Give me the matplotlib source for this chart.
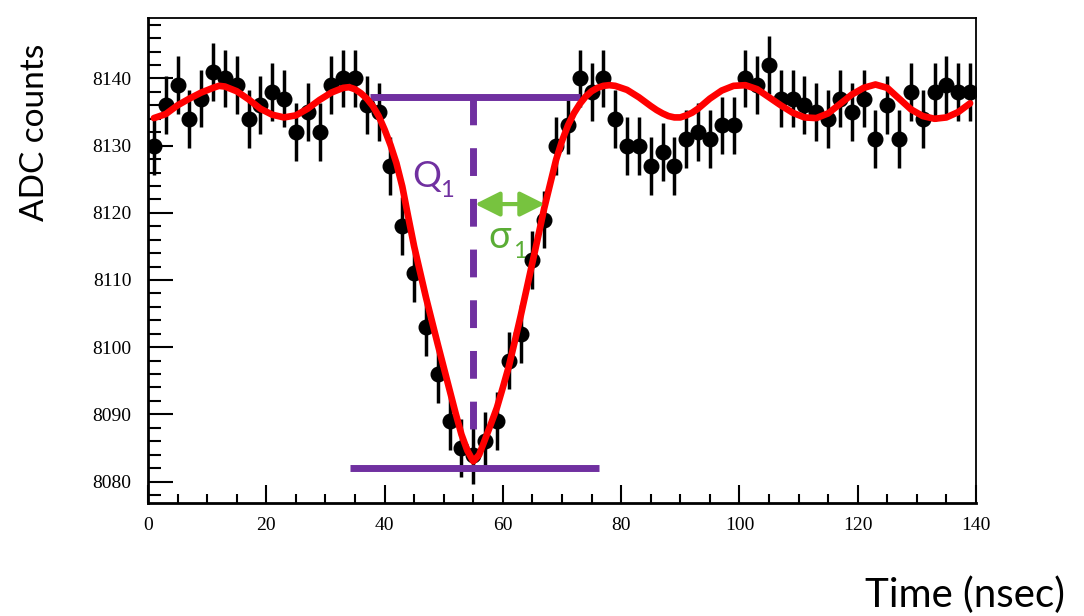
import numpy as np
import matplotlib.pyplot as plt
from matplotlib.patches import ArrowStyle
from matplotlib.ticker import MultipleLocator

# measured ADC samples (every 2 ns)
time_ns = np.arange(1, 140, 2)
adc = [8130, 8136, 8139, 8134, 8137, 8141, 8140, 8139, 8134, 8136,
       8138, 8137, 8132, 8135, 8132, 8139, 8140, 8140, 8136, 8135,
       8127, 8118, 8111, 8103, 8096, 8089, 8085, 8084, 8086, 8089,
       8098, 8102, 8113, 8119, 8130, 8133, 8140, 8138, 8140, 8134,
       8130, 8130, 8127, 8129, 8127, 8131, 8132, 8131, 8133, 8133,
       8140, 8139, 8142, 8137, 8137, 8136, 8135, 8134, 8137, 8135,
       8137, 8131, 8136, 8131, 8138, 8134, 8138, 8139, 8138, 8138]
adc_err = 4.3

# fit curve
fit_t = [1, 3, 5, 7, 9, 11, 12, 13, 15, 17, 19, 21, 23, 25, 27, 29, 31, 33, 34,
         35, 36, 37, 38, 39, 40, 41, 42, 43, 44, 45, 46, 47, 48, 49, 50, 51, 52,
         53, 54, 55, 56, 57, 58, 59, 60, 61, 62, 63, 64, 65, 66, 67, 68, 69, 70,
         71, 72, 73, 74, 75, 76, 77, 78, 79, 81, 83, 85, 86, 87, 88, 89, 90, 91,
         92, 93, 95, 97, 99, 101, 103, 105, 107, 109, 111, 113, 115, 117, 119,
         121, 123, 125, 127, 129, 131, 133, 135, 137, 139]
fit_adc = [8134.1, 8134.7, 8136.0, 8137.0, 8137.9, 8138.6, 8138.9, 8138.8,
           8138.1, 8136.9, 8135.5, 8134.6, 8134.2, 8134.5, 8135.5, 8136.8,
           8137.9, 8138.6, 8138.7, 8138.4, 8137.8, 8137.0, 8135.9, 8134.4,
           8132.4, 8130.1, 8127.4, 8123.9, 8119.4, 8115.0, 8111.2, 8107.4,
           8103.9, 8100.4, 8097.0, 8093.6, 8090.2, 8087.0, 8084.6, 8083.0,
           8084.0, 8086.3, 8088.6, 8091.0, 8094.0, 8097.1, 8100.8, 8104.6,
           8108.6, 8112.6, 8116.6, 8120.7, 8124.3, 8127.9, 8130.7, 8133.0,
           8134.8, 8136.2, 8137.3, 8138.1, 8138.6, 8138.9, 8139.0, 8138.9,
           8138.3, 8137.2, 8135.9, 8135.3, 8134.8, 8134.4, 8134.2, 8134.2,
           8134.5, 8134.9, 8135.5, 8137.0, 8138.2, 8138.9, 8139.0, 8138.4,
           8137.2, 8136.0, 8134.9, 8134.2, 8134.1, 8134.8, 8136.2, 8137.6,
           8138.6, 8139.1, 8138.6, 8137.0, 8135.4, 8134.4, 8134.0, 8134.2,
           8135.0, 8136.3]

# pulse markers
t_peak = 55.0
base_level = 8137.3
min_level = 8082.0
top_span = (37.5, 73.0)
bottom_span = (34.2, 76.2)
dash_end = 8087.3
sigma_span = (55.3, 67.1)
sigma_level = 8121.3

purple = '#7030a0'
green = '#77c33f'
sans = ['Lato', 'DejaVu Sans']

fig = plt.figure(figsize=(10.84, 6.16), dpi=100)
ax = fig.add_axes([148/1084, 1 - 503/616, 828/1084, 485/616])

ax.errorbar(time_ns, adc, yerr=adc_err, fmt='o', color='black', ms=10.5,
            elinewidth=2.5, capsize=0, zorder=3)

ax.plot(top_span, [base_level, base_level], color=purple, lw=5, solid_capstyle='butt', zorder=4)
ax.plot(bottom_span, [min_level, min_level], color=purple, lw=5, solid_capstyle='butt', zorder=4)
ax.plot([t_peak, t_peak], [base_level, dash_end], color=purple, lw=5,
        linestyle=(0, (4, 3.3)), dash_capstyle='butt', zorder=4)

ax.plot(fit_t, fit_adc, color='#ff0000', lw=4.8, solid_joinstyle='round',
        solid_capstyle='round', zorder=5)

ax.annotate('', xy=(sigma_span[1], sigma_level), xytext=(sigma_span[0], sigma_level),
            arrowprops=dict(arrowstyle=ArrowStyle('<|-|>', head_length=0.6, head_width=0.3),
                            color=green, lw=3, mutation_scale=25, shrinkA=0, shrinkB=0),
            zorder=6)

ax.text(44.6, 8123.9, 'Q', color=purple, fontsize=26, family=sans, ha='left', va='baseline')
ax.text(49.4, 8122.4, '1', color=purple, fontsize=17, family=sans, ha='left', va='baseline')
ax.text(57.6, 8114.8, 'σ', color='#5aad35', fontsize=27, family=sans, ha='left', va='baseline')
ax.text(61.7, 8113.3, '1', color='#5aad35', fontsize=17, family=sans, ha='left', va='baseline')

ax.set_xlim(0, 140)
ax.set_ylim(8076.8, 8149.0)
ax.xaxis.set_major_locator(MultipleLocator(20))
ax.xaxis.set_minor_locator(MultipleLocator(5))
ax.yaxis.set_major_locator(MultipleLocator(10))
ax.yaxis.set_minor_locator(MultipleLocator(2))
ax.tick_params(axis='x', which='major', direction='in', length=13, width=1.5, pad=10)
ax.tick_params(axis='x', which='minor', direction='in', length=6.5, width=1.5)
ax.tick_params(axis='y', which='major', direction='in', length=18, width=1.5, pad=12)
ax.tick_params(axis='y', which='minor', direction='in', length=9, width=1.5)
for lab in ax.get_xticklabels() + ax.get_yticklabels():
    lab.set_family('Liberation Serif')
    lab.set_fontsize(14)
for side in ['left', 'bottom']:
    ax.spines[side].set_linewidth(2)
for side in ['top', 'right']:
    ax.spines[side].set_linewidth(1.3)

fig.text(35/1084, 1 - 132/616, 'ADC counts', rotation=90, fontsize=24, family=sans,
         ha='center', va='center')
fig.text(965/1084, 1 - 595/616, 'Time (nsec)', fontsize=29, family=sans,
         ha='center', va='center')

fig.savefig('out.png', dpi=100)
